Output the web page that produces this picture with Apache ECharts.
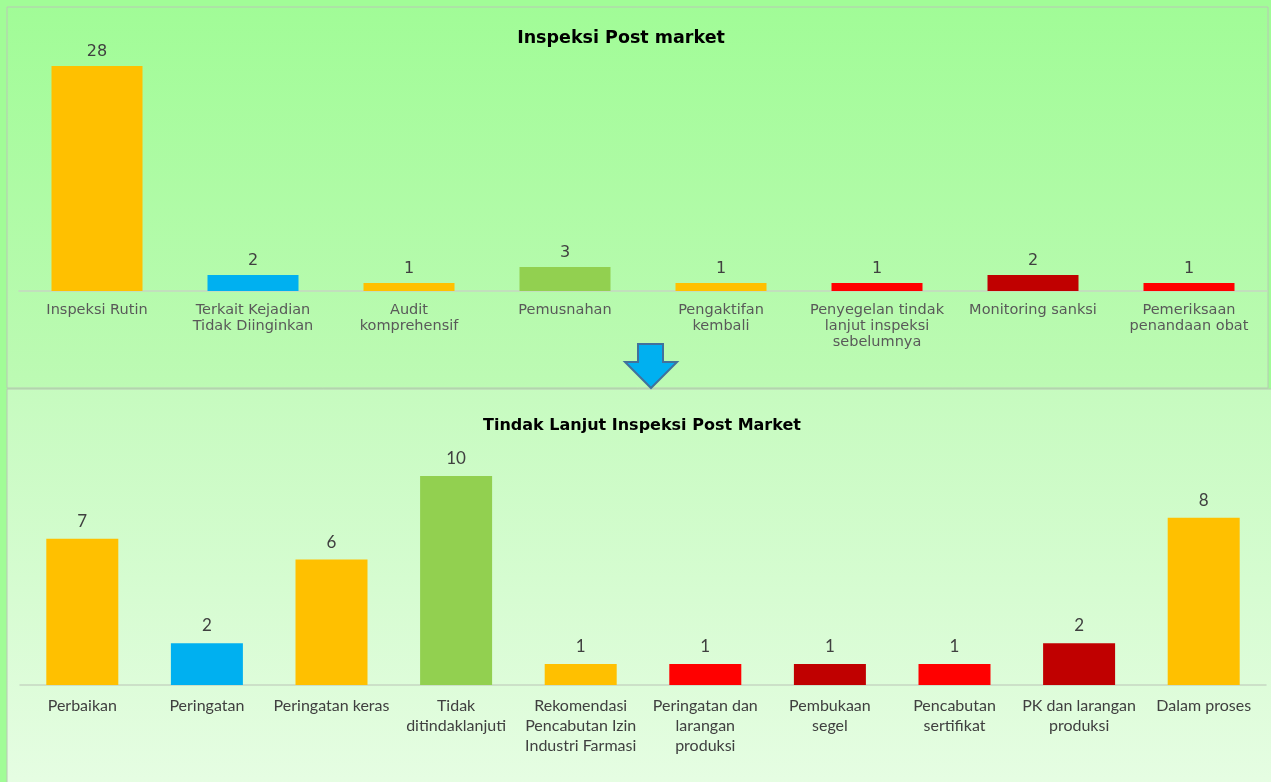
<!DOCTYPE html>
<html>
<head>
<meta charset="utf-8">
<script src="https://cdn.jsdelivr.net/npm/echarts@6/dist/echarts.min.js"></script>
<style>
  html, body { margin: 0; padding: 0; }
  #chart { width: 1271px; height: 782px; }
</style>
</head>
<body>
<div id="chart"></div>
<script>
// 数据 - atas
const topTitle = 'Inspeksi Post market';
const topCategories = ['Inspeksi Rutin', 'Terkait Kejadian\nTidak Diinginkan', 'Audit\nkomprehensif', 'Pemusnahan',
    'Pengaktifan\nkembali', 'Penyegelan tindak\nlanjut inspeksi\nsebelumnya', 'Monitoring sanksi', 'Pemeriksaan\npenandaan obat'];
const topValues = [28, 2, 1, 3, 1, 1, 2, 1];
const topColors = ['#ffc000', '#00b0f0', '#ffc000', '#92d050', '#ffc000', '#ff0000', '#c00000', '#ff0000'];

// 数据 - bawah
const bottomTitle = 'Tindak Lanjut Inspeksi Post Market';
const bottomCategories = ['Perbaikan', 'Peringatan', 'Peringatan keras', 'Tidak\nditindaklanjuti',
    'Rekomendasi\nPencabutan Izin\nIndustri Farmasi', 'Peringatan dan\nlarangan\nproduksi', 'Pembukaan\nsegel',
    'Pencabutan\nsertifikat', 'PK dan larangan\nproduksi', 'Dalam proses'];
const bottomValues = [7, 2, 6, 10, 1, 1, 1, 1, 2, 8];
const bottomColors = ['#ffc000', '#00b0f0', '#ffc000', '#92d050', '#ffc000', '#ff0000', '#c00000', '#ff0000', '#c00000', '#ffc000'];

var chart = echarts.init(document.getElementById('chart'));

function grad(c1, c2) {
    return new echarts.graphic.LinearGradient(0, 0, 0, 1, [
        { offset: 0, color: c1 },
        { offset: 1, color: c2 }
    ]);
}

var option = {
    backgroundColor: '#a1fc97',
    animation: false,
    title: [
        {
            text: topTitle, left: 621, top: 29, textAlign: 'center', padding: 0,
            textStyle: { fontFamily: 'DejaVu Sans', fontSize: 17.5, fontWeight: 'bold', color: '#000' }
        },
        {
            text: bottomTitle, left: 642, top: 418, textAlign: 'center', padding: 0,
            textStyle: { fontFamily: 'DejaVu Sans', fontSize: 16, fontWeight: 'bold', color: '#000' }
        }
    ],
    graphic: [
        {
            type: 'rect', z: -10, silent: true,
            shape: { x: 7, y: 7, width: 1261, height: 381 },
            style: { fill: grad('#a1fc97', '#bdfab4'), stroke: '#b8c8b4', lineWidth: 1 }
        },
        {
            type: 'rect', z: -10, silent: true,
            shape: { x: 7, y: 389, width: 1270, height: 400 },
            style: { fill: grad('#c6fbbf', '#e6fde3'), stroke: '#b8c8b4', lineWidth: 1 }
        },
        {
            type: 'polygon', z: 10, silent: true,
            shape: { points: [[638, 344], [663, 344], [663, 362], [677, 362], [651, 388], [625, 362], [638, 362]] },
            style: { fill: '#00b0f0', stroke: '#41719c', lineWidth: 2 }
        }
    ],
    grid: [
        { left: 19, right: 4, top: 66, bottom: 491 },
        { left: 20, right: 5, top: 476, bottom: 97 }
    ],
    xAxis: [
        {
            type: 'category', gridIndex: 0, data: topCategories,
            axisLine: { lineStyle: { color: '#c6d6c2', width: 1.5 } },
            axisTick: { show: false },
            axisLabel: {
                interval: 0, margin: 11, color: '#595959',
                fontFamily: 'DejaVu Sans', fontSize: 14.5, lineHeight: 16
            }
        },
        {
            type: 'category', gridIndex: 1, data: bottomCategories,
            axisLine: { lineStyle: { color: '#c6d6c2', width: 1.5 } },
            axisTick: { show: false },
            axisLabel: {
                interval: 0, margin: 11, color: '#404040',
                fontFamily: 'Lato', fontSize: 16, lineHeight: 20
            }
        }
    ],
    yAxis: [
        { type: 'value', gridIndex: 0, min: 0, max: 28, show: false },
        { type: 'value', gridIndex: 1, min: 0, max: 10, show: false }
    ],
    series: [
        {
            name: topTitle, type: 'bar', xAxisIndex: 0, yAxisIndex: 0,
            barWidth: 91,
            data: topValues.map((v, i) => ({ value: v, itemStyle: { color: topColors[i] } })),
            label: {
                show: true, position: 'top', distance: 6, color: '#404040',
                fontFamily: 'DejaVu Sans', fontSize: 16
            }
        },
        {
            name: bottomTitle, type: 'bar', xAxisIndex: 1, yAxisIndex: 1,
            barWidth: 72,
            data: bottomValues.map((v, i) => ({ value: v, itemStyle: { color: bottomColors[i] } })),
            label: {
                show: true, position: 'top', distance: 9, color: '#404040',
                fontFamily: 'Lato', fontSize: 17
            }
        }
    ]
};

chart.setOption(option);
</script>
</body>
</html>
